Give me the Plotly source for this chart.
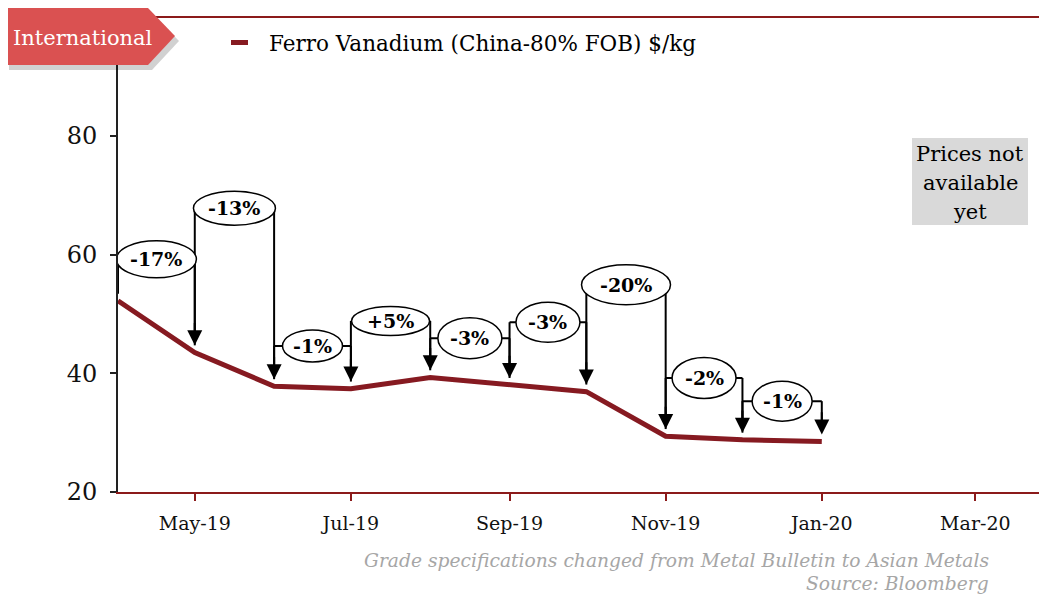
import pandas as pd
import plotly.graph_objects as go

# ---- data ----
months = ["2019-04-01", "2019-05-01", "2019-06-01", "2019-07-01", "2019-08-01",
          "2019-09-01", "2019-10-01", "2019-11-01", "2019-12-01", "2020-01-01"]
prices = [52.2, 43.5, 37.8, 37.4, 39.3, 38.0, 36.9, 29.4, 28.8, 28.5]
change_labels = ["-17%", "-13%", "-1%", "+5%", "-3%", "-3%", "-20%", "-2%", "-1%"]
series_name = "Ferro Vanadium (China-80% FOB) $/kg"
tick_dates = ["2019-05-01", "2019-07-01", "2019-09-01", "2019-11-01", "2020-01-01", "2020-03-01"]
tick_labels = ["May-19", "Jul-19", "Sep-19", "Nov-19", "Jan-20", "Mar-20"]
y_ticks = [20, 40, 60, 80]

# ---- annotation layout (bracket heights in axis units, ellipse sizes in px) ----
bracket_levels = [59.2, 67.8, 44.6, 48.8, 45.9, 48.6, 54.9, 39.2, 35.3]
ellipse_w = [80, 82, 60, 78, 64, 64, 89, 64, 60]
ellipse_h = [37, 34, 32, 29, 41, 40, 40, 41, 40]

OFF = 8  # page body margin
W, H = 1047 - OFF, 595 - OFF
L, T = 118 - OFF, 17 - OFF
B = H - (492 - OFF)
PW, PH = W - L, H - T - B
FONT = "DejaVu Serif"
RED = "#861A21"
AXRED = "#8B1A1A"


def px_x(p):
    return (p - OFF - L) / PW


def px_y(p):
    return (H - B - (p - OFF)) / PH


fig = go.Figure()
fig.add_trace(go.Scatter(x=months, y=prices, mode="lines", name=series_name,
                         line=dict(color=RED, width=5), showlegend=False))

shapes = []
annotations = []
gap = 1.2

# horizontal bracket lines + legs + arrowheads
for i, lab in enumerate(change_labels):
    x0, x1 = months[i], months[i + 1]
    lvl = bracket_levels[i]
    shapes.append(dict(type="line", xref="x", yref="y", x0=x0, x1=x1, y0=lvl, y1=lvl,
                       line=dict(color="black", width=2)))
    shapes.append(dict(type="line", xref="x", yref="y", x0=x0, x1=x0, y0=lvl,
                       y1=prices[i] + gap, line=dict(color="black", width=2)))
    shapes.append(dict(type="line", xref="x", yref="y", x0=x1, x1=x1, y0=lvl,
                       y1=prices[i + 1] + gap + 2, line=dict(color="black", width=2)))
    annotations.append(dict(x=x1, y=prices[i + 1] + gap, ax=x1, ay=prices[i + 1] + gap + 4,
                            xref="x", yref="y", axref="x", ayref="y", text="",
                            showarrow=True, arrowhead=2, arrowsize=1.5, arrowwidth=2,
                            arrowcolor="black", standoff=0, startstandoff=0))

# ellipses + labels
for i, lab in enumerate(change_labels):
    a, b = pd.Timestamp(months[i]), pd.Timestamp(months[i + 1])
    mid = (a + (b - a) / 2).strftime("%Y-%m-%d %H:%M")
    lvl = bracket_levels[i]
    w, h = ellipse_w[i], ellipse_h[i]
    shapes.append(dict(type="circle", xref="x", yref="y", xsizemode="pixel", ysizemode="pixel",
                       xanchor=mid, yanchor=lvl, x0=-w / 2, x1=w / 2, y0=-h / 2, y1=h / 2,
                       fillcolor="white", line=dict(color="black", width=1.5)))
    annotations.append(dict(x=mid, y=lvl, xref="x", yref="y", text="<b>%s</b>" % lab,
                            showarrow=False, font=dict(family=FONT, size=19, color="black"),
                            xanchor="center", yanchor="middle"))

# top border line
shapes.append(dict(type="line", xref="paper", yref="paper", x0=px_x(100), x1=1, y0=1, y1=1,
                   line=dict(color=AXRED, width=2)))


# "International" tab with shadow
def pent(dx, dy):
    pts = [(5, 8), (148, 8), (175, 36), (148, 65), (5, 65)]
    return "M " + " L ".join("%f,%f" % (px_x(x + dx), px_y(y + dy)) for x, y in pts) + " Z"


shapes.append(dict(type="path", xref="paper", yref="paper", path=pent(4, 5),
                   fillcolor="rgba(0,0,0,0.18)", line=dict(width=0)))
shapes.append(dict(type="path", xref="paper", yref="paper", path=pent(0, 0),
                   fillcolor="#DA5151", line=dict(width=0)))
annotations.append(dict(x=px_x(83), y=px_y(38), xref="paper", yref="paper", text="International",
                        showarrow=False, font=dict(family=FONT, size=21, color="white"),
                        xanchor="center", yanchor="middle"))

# manual legend
shapes.append(dict(type="rect", xref="paper", yref="paper", x0=px_x(231), x1=px_x(248),
                   y0=px_y(45), y1=px_y(40), fillcolor=RED, line=dict(width=0)))
annotations.append(dict(x=px_x(267), y=px_y(43), xref="paper", yref="paper", text=series_name,
                        showarrow=False, font=dict(family=FONT, size=21.5, color="black"),
                        xanchor="left", yanchor="middle"))

# "Prices not available yet" box
shapes.append(dict(type="rect", xref="paper", yref="paper", x0=px_x(912), x1=px_x(1028),
                   y0=px_y(225), y1=px_y(138), fillcolor="#D9D9D9", line=dict(width=0)))
for txt, yy in [("Prices not", 154), ("available", 183), ("yet", 212)]:
    annotations.append(dict(x=px_x(970), y=px_y(yy), xref="paper", yref="paper",
                            text=txt, showarrow=False,
                            font=dict(family=FONT, size=21, color="black"),
                            xanchor="center", yanchor="middle"))

# footer
annotations.append(dict(x=px_x(991), y=px_y(560), xref="paper", yref="paper",
                        text="<i>Grade specifications changed from Metal Bulletin to Asian Metals</i>",
                        showarrow=False, font=dict(family=FONT, size=18.7, color="#A6A6A6"),
                        xanchor="right", yanchor="middle"))
annotations.append(dict(x=px_x(991), y=px_y(583), xref="paper", yref="paper",
                        text="<i>Source: Bloomberg</i>",
                        showarrow=False, font=dict(family=FONT, size=18.7, color="#A6A6A6"),
                        xanchor="right", yanchor="middle"))

fig.update_layout(
    width=W, height=H,
    margin=dict(l=L, r=0, t=T, b=B, autoexpand=False),
    paper_bgcolor="white", plot_bgcolor="white",
    shapes=shapes, annotations=annotations, showlegend=False,
    xaxis=dict(type="date", range=["2019-04-01", "2020-03-29"], tickvals=tick_dates,
               ticktext=tick_labels, showgrid=False, zeroline=False, showline=True,
               linecolor=AXRED, linewidth=2, ticks="outside", ticklen=7, tickwidth=2,
               tickcolor=AXRED, ticklabelstandoff=6,
               tickfont=dict(family=FONT, size=19, color="#111")),
    yaxis=dict(range=[20, 100], tickvals=y_ticks, showgrid=False, zeroline=False,
               showline=True, linecolor="#222", linewidth=2, ticks="outside", ticklen=6,
               tickwidth=1.5, tickcolor="#222", ticklabelstandoff=8,
               tickfont=dict(family=FONT, size=24, color="#111")),
)

fig.write_html("out.html")
